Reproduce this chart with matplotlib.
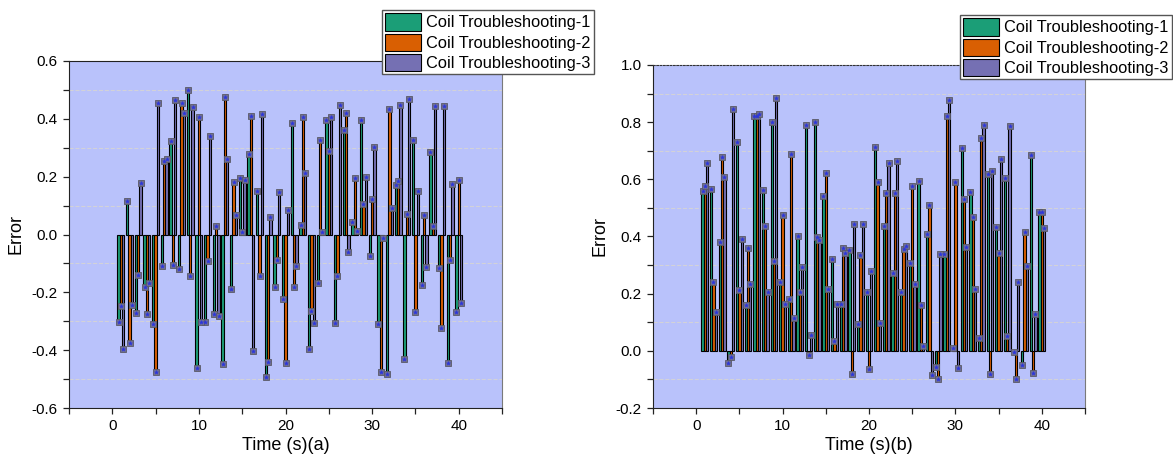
import numpy as np
import matplotlib
matplotlib.use("Agg")
import matplotlib.pyplot as plt
from matplotlib.ticker import MultipleLocator

plt.rcParams['font.family'] = ['Liberation Sans', 'DejaVu Sans']

# time steps (s)
time_s = list(range(1, 41))
series_names = ['Coil Troubleshooting-1', 'Coil Troubleshooting-2', 'Coil Troubleshooting-3']
series_colors = ['#1b9e77', '#d95f02', '#7570b3']

# (a) error, one list per series
err_a_1 = [-0.304, 0.115, -0.273, -0.181, -0.310, -0.110, 0.322, -0.119, 0.500, -0.463,
           -0.301, -0.275, -0.449, -0.187, 0.195, 0.278, 0.149, -0.492, -0.181, -0.223,
           0.386, 0.033, -0.397, -0.169, 0.395, -0.305, 0.360, 0.043, 0.395, -0.073,
           -0.310, -0.483, 0.172, -0.432, 0.328, -0.174, 0.286, -0.115, -0.443, -0.268]
err_a_2 = [-0.246, -0.376, -0.139, -0.275, -0.476, 0.254, -0.106, 0.454, -0.143, 0.405,
           -0.090, 0.030, 0.476, 0.181, 0.009, 0.409, -0.143, -0.440, -0.087, -0.443,
           -0.181, 0.405, -0.264, 0.327, 0.290, -0.142, 0.419, 0.197, 0.104, 0.124,
           -0.477, 0.434, 0.186, 0.072, -0.269, 0.068, 0.031, -0.322, -0.087, 0.188]
err_a_3 = [-0.396, -0.245, 0.178, -0.167, 0.454, 0.262, 0.464, 0.419, 0.441, -0.301,
           0.339, -0.283, 0.262, 0.068, 0.188, -0.404, 0.416, 0.060, 0.146, 0.083,
           -0.110, 0.214, -0.305, 0.007, 0.405, 0.448, -0.061, 0.013, 0.199, 0.301,
           -0.012, 0.091, 0.448, 0.470, 0.149, -0.112, 0.443, 0.443, 0.173, -0.236]

# (b) error
err_b_1 = [0.560, 0.566, 0.381, -0.044, 0.729, 0.159, 0.821, 0.563, 0.799, 0.242,
           0.181, 0.401, 0.790, 0.801, 0.543, 0.320, 0.165, 0.352, 0.094, 0.207,
           0.712, 0.436, 0.274, 0.207, 0.307, 0.595, 0.407, -0.057, 0.338, 0.010,
           0.710, 0.556, 0.045, 0.617, 0.433, 0.603, -0.003, -0.051, 0.685, 0.487]
err_b_2 = [0.576, 0.242, 0.677, -0.020, 0.214, 0.359, 0.821, 0.436, 0.313, 0.476,
           0.688, 0.205, -0.016, 0.398, 0.621, 0.033, 0.359, -0.080, 0.337, -0.064,
           0.591, 0.552, 0.552, 0.356, 0.576, 0.159, 0.510, -0.097, 0.821, 0.590,
           0.530, 0.469, 0.745, -0.080, 0.342, 0.052, -0.099, 0.417, -0.078, 0.484]
err_b_3 = [0.657, 0.137, 0.609, 0.847, 0.391, 0.234, 0.827, 0.205, 0.883, 0.165,
           0.116, 0.295, 0.055, 0.387, 0.216, 0.165, 0.342, 0.444, 0.444, 0.280,
           0.099, 0.656, 0.665, 0.366, 0.234, 0.016, -0.084, 0.338, 0.876, -0.060,
           0.362, 0.216, 0.790, 0.628, 0.672, 0.785, 0.242, 0.298, 0.130, 0.431]

bg = '#b9c2fb'
bar_w = 0.8 / 3


def draw_panel(ax, series, ylim, xlabel, dotted_top=False):
    t = np.array(time_s)
    for i, (vals, col, name) in enumerate(zip(series, series_colors, series_names)):
        x = t + (i - 1) * bar_w
        ax.bar(x, vals, width=bar_w, color=col, edgecolor='black', linewidth=0.8,
               label=name, zorder=3)
        # marker on each bar top: grey square with a blue star
        ax.plot(x, vals, ls='none', marker='s', ms=3.8, mfc='#6e6e94', mec='#5a5a66',
                mew=0.6, zorder=4)
        ax.plot(x, vals, ls='none', marker='*', ms=3.0, mfc='#2a34e0', mec='#2a34e0',
                mew=0.3, zorder=5)
    ax.set_facecolor(bg)
    ax.set_xlim(-5, 45)
    ax.set_ylim(*ylim)
    ax.xaxis.set_major_locator(MultipleLocator(10))
    ax.xaxis.set_minor_locator(MultipleLocator(5))
    ax.yaxis.set_major_locator(MultipleLocator(0.2))
    ax.yaxis.set_minor_locator(MultipleLocator(0.1))
    ax.yaxis.set_major_formatter(matplotlib.ticker.FormatStrFormatter('%.1f'))
    ax.tick_params(which='both', direction='out', length=4.5, width=0.9,
                   labelsize=11, color='#222222')
    ax.grid(which='minor', axis='y', color='#d2d2d8', ls='--', lw=0.8, zorder=0)
    ax.grid(which='major', axis='both', visible=False)
    ax.set_xlabel(xlabel, fontsize=13, labelpad=3)
    ax.set_ylabel('Error', fontsize=13, labelpad=5)
    ax.spines['left'].set_color('#222222')
    ax.spines['bottom'].set_color('#222222')
    ax.spines['right'].set_color('#7a7a7a')
    ax.spines['top'].set_color('#222222')
    if dotted_top:
        ax.spines['top'].set_linestyle((0, (1.5, 1.5)))
        ax.spines['top'].set_color('#333333')
    ax.set_axisbelow(True)


fig = plt.figure(figsize=(11.73, 4.63), dpi=100)
ax_a = fig.add_axes([69 / 1173, 55 / 463, 433 / 1173, 347 / 463])
ax_b = fig.add_axes([653 / 1173, 55 / 463, 432 / 1173, 343 / 463])

draw_panel(ax_a, [err_a_1, err_a_2, err_a_3], (-0.6, 0.6), 'Time (s)(a)')
draw_panel(ax_b, [err_b_1, err_b_2, err_b_3], (-0.2, 1.0), 'Time (s)(b)', dotted_top=True)

for ax, anchor in [(ax_a, (594 / 1173, 1 - 10 / 463)), (ax_b, (1172 / 1173, 1 - 15 / 463))]:
    handles, labels = ax.get_legend_handles_labels()
    leg = ax.legend(handles, labels, loc='upper right', bbox_to_anchor=anchor,
                    bbox_transform=fig.transFigure, fontsize=11.8, frameon=True,
                    fancybox=False, edgecolor='#555555', framealpha=1,
                    handlelength=2.2, handleheight=1.25, labelspacing=0.18,
                    handletextpad=0.3, borderpad=0.2, borderaxespad=0)
    leg.get_frame().set_linewidth(1.0)
    leg.set_zorder(10)

fig.savefig('out.png', dpi=100)
